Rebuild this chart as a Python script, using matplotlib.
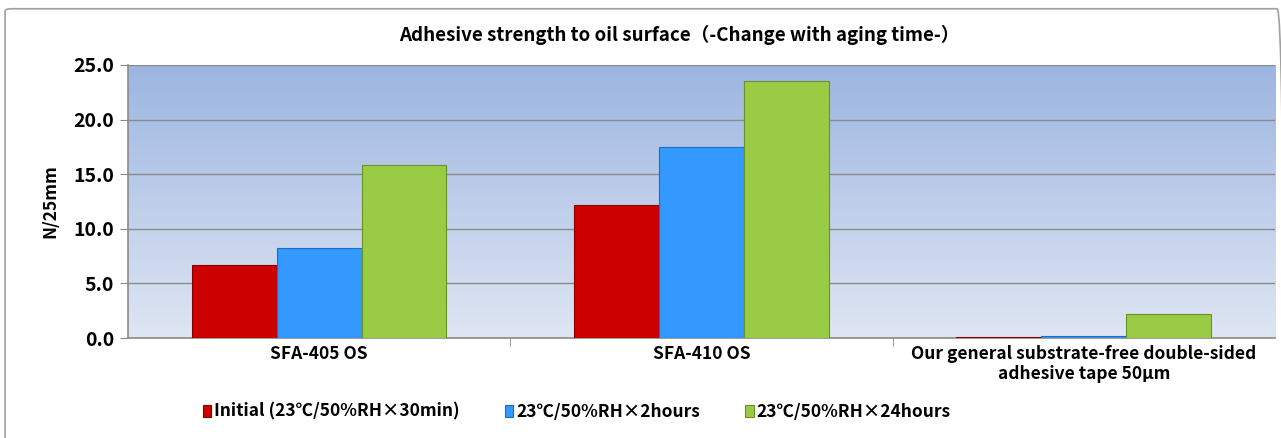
import numpy as np
import matplotlib.pyplot as plt
from matplotlib.patches import FancyBboxPatch
from matplotlib.colors import LinearSegmentedColormap

plt.rcParams['font.family'] = ['Noto Sans CJK JP', 'DejaVu Sans']
plt.rcParams['font.weight'] = 'bold'
plt.rcParams['axes.labelweight'] = 'bold'

categories = ['SFA-405 OS', 'SFA-410 OS',
              'Our general substrate-free double-sided\nadhesive tape 50\u03bcm']
series_names = ['Initial (23\u2103/50%RH\u00d730min)',
                '23\u2103/50%RH\u00d72hours',
                '23\u2103/50%RH\u00d724hours']
initial = [6.7, 12.2, 0.1]
two_hours = [8.2, 17.5, 0.2]
day = [15.8, 23.5, 2.2]
colors = ['#cc0000', '#3399ff', '#99cc44']
edges = ['#8a0000', '#1a6fc4', '#6a9126']

fig = plt.figure(figsize=(12.81, 4.38), dpi=100)
ax = fig.add_axes([0.0999, 0.2283, 0.8954, 0.6233])

# рамка рисунка
fig.patches.append(FancyBboxPatch((0.004, -0.02), 0.998, 1.0, transform=fig.transFigure,
                                  boxstyle='round,pad=0,rounding_size=0.005',
                                  fc='none', ec='#a0a0a0', lw=1.2))

# градиентный фон области графика
grad = np.linspace(0, 1, 256).reshape(-1, 1)
cmap = LinearSegmentedColormap.from_list('bg', ['#dfe6f3', '#9cb5e1'])
ax.imshow(grad, cmap=cmap, aspect='auto', extent=[0, 1, 0, 1],
          transform=ax.transAxes, origin='lower', zorder=0)

x = np.arange(len(categories))
w = 0.222
for i, vals in enumerate([initial, two_hours, day]):
    ax.bar(x + (i - 1) * w, vals, w, color=colors[i], edgecolor=edges[i],
           linewidth=0.8, label=series_names[i], zorder=3)

ax.set_xlim(-0.5, 2.5)
ax.set_ylim(0, 25)
ax.set_yticks(np.arange(0, 25.1, 5))
ax.set_yticklabels([f'{v:.1f}' for v in np.arange(0, 25.1, 5)], fontsize=14)
ax.yaxis.grid(True, color='#8a8a8a', lw=1, zorder=1)

ax.set_xticks([0.5, 1.5], minor=True)
ax.set_xticks(x)
ax.set_xticklabels(categories, fontsize=12.5, linespacing=1.15)
ax.tick_params(axis='x', which='major', length=0, pad=5)
ax.tick_params(axis='x', which='minor', length=6, color='#8a8a8a')
ax.tick_params(axis='y', length=6, color='#8a8a8a', pad=4)

for s in ['top', 'right']:
    ax.spines[s].set_visible(False)
for s in ['left', 'bottom']:
    ax.spines[s].set_color('#8a8a8a')
    ax.spines[s].set_linewidth(1.2)

ax.set_ylabel('N/25mm', fontsize=12.5, labelpad=10)
fig.text(0.53, 0.92, 'Adhesive strength to oil surface\uff08-Change with aging time-\uff09',
         ha='center', va='center', fontsize=13.5)

fig.legend(loc='center', bbox_to_anchor=(0.45, 0.06), ncol=3, frameon=False,
           fontsize=12.5, handlelength=0.5, handleheight=0.7, handletextpad=0.15,
           columnspacing=2.6)

fig.savefig('out.png', dpi=100)
